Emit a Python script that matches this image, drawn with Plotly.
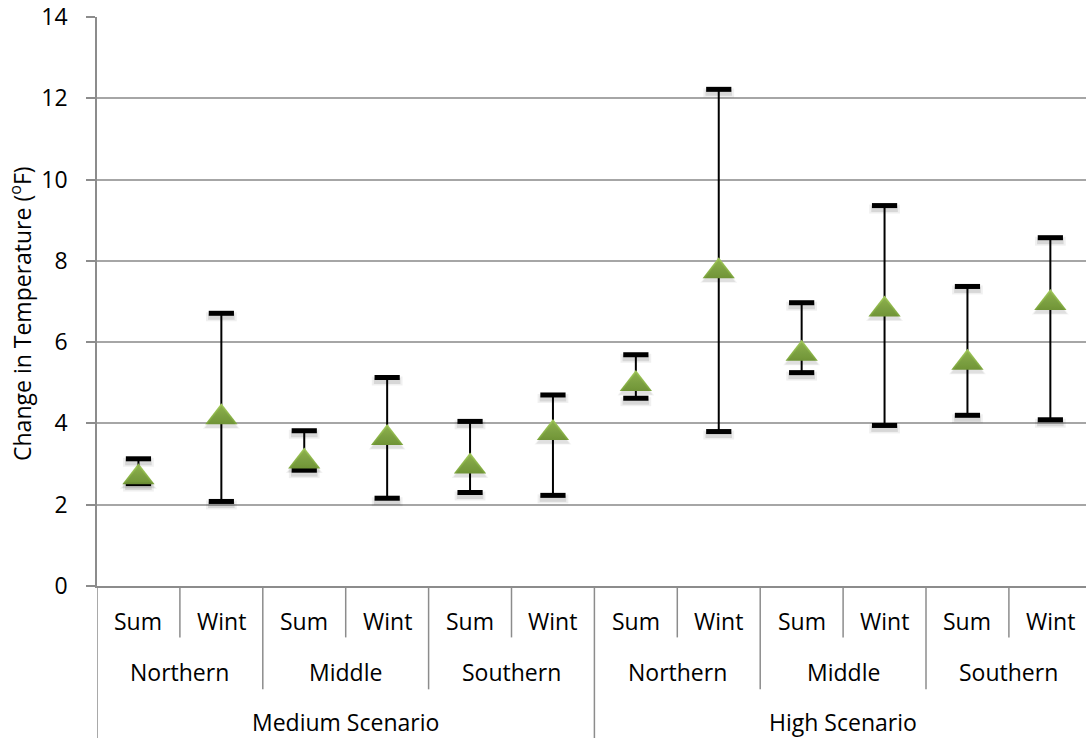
import plotly.graph_objects as go

# Projected seasonal temperature change by region and emissions scenario
seasons = ["Sum", "Wint"] * 6
regions = ["Northern", "Middle", "Southern"]
scenarios = ["Medium Scenario", "High Scenario"]

mean_change = [2.83, 4.31, 3.22, 3.80, 3.10, 3.92,
               5.13, 7.90, 5.87, 6.96, 5.65, 7.12]
upper_change = [3.13, 6.71, 3.82, 5.13, 4.05, 4.70,
                5.69, 12.22, 6.97, 9.36, 7.37, 8.57]
lower_change = [2.52, 2.08, 2.85, 2.16, 2.30, 2.23,
                4.62, 3.80, 5.25, 3.95, 4.20, 4.09]

y_ticks = [0, 2, 4, 6, 8, 10, 12, 14]
y_title = "Change in Temperature (<sup>o</sup>F)"

W, H = 1086, 738
M_L, M_R, M_T, M_B = 97, 0, 16.5, 151.5
plot_w = W - M_L - M_R
plot_h = H - M_T - M_B
y_min, y_max = 0, 14
px_per_unit = plot_h / (y_max - y_min)

# x range: the last category runs slightly past the right edge of the page
x_lo, x_hi = -0.5, 11.43

FONT = "Open Sans"
LABEL_SIZE = 23
GRID = "#A6A6A6"
AXIS = "#8C8C8C"

x_idx = list(range(len(mean_change)))

# plotly anchors triangle-up near its base; an overlay axis shifted by
# the symbol's half-height offset keeps each triangle centred on its value
tri_size = 28
tri_shift = 0.2285 * tri_size / px_per_unit
# drop shadows sit a few pixels below their mark
shadow_shift = 3.5 / px_per_unit


def shifted_axis(shift):
    return dict(range=[y_min + shift, y_max + shift], overlaying="y",
                visible=False)


fig = go.Figure()

# soft drop shadows under the caps and triangles
for width, alpha in [(9, 0.06), (6, 0.10)]:
    fig.add_trace(go.Scatter(
        x=x_idx + x_idx, y=upper_change + lower_change, mode="markers",
        yaxis="y3",
        marker=dict(symbol="line-ew", size=18 + width - 5,
                    line=dict(color=f"rgba(0,0,0,{alpha})", width=width)),
        hoverinfo="skip", showlegend=False,
    ))
for grow, alpha in [(4, 0.05), (1, 0.07)]:
    fig.add_trace(go.Scatter(
        x=x_idx, y=mean_change, mode="markers", yaxis="y4",
        marker=dict(symbol="triangle-up", size=tri_size + grow,
                    color=f"rgba(0,0,0,{alpha})", line=dict(width=0)),
        hoverinfo="skip", showlegend=False,
    ))

# error-bar stems
fig.add_trace(go.Scatter(
    x=x_idx, y=mean_change, mode="markers",
    marker=dict(size=1, color="rgba(0,0,0,0)"),
    error_y=dict(type="data", symmetric=False,
                 array=[u - m for u, m in zip(upper_change, mean_change)],
                 arrayminus=[m - l for m, l in zip(mean_change, lower_change)],
                 color="black", thickness=2, width=0),
    hoverinfo="skip", showlegend=False,
))

# thick caps at both ends of each range
fig.add_trace(go.Scatter(
    x=x_idx + x_idx, y=upper_change + lower_change, mode="markers",
    marker=dict(symbol="line-ew", size=18,
                line=dict(color="black", width=5)),
    hoverinfo="skip", showlegend=False,
))

# mean change markers
fig.add_trace(go.Scatter(
    x=x_idx, y=mean_change, mode="markers", yaxis="y2",
    marker=dict(symbol="triangle-up", size=tri_size, color="#A4CC5C",
                gradient=dict(type="vertical", color="#7FA83F"),
                line=dict(width=0)),
    showlegend=False,
))

fig.update_layout(
    width=W, height=H,
    margin=dict(l=M_L, r=M_R, t=M_T, b=M_B, pad=0),
    paper_bgcolor="white", plot_bgcolor="white",
    font=dict(family=FONT, size=LABEL_SIZE, color="black"),
    xaxis=dict(range=[x_lo, x_hi], showgrid=False, zeroline=False,
               showticklabels=False, ticks="", showline=True,
               linecolor=AXIS, linewidth=1.5),
    yaxis=dict(range=[y_min, y_max], tickvals=y_ticks,
               showgrid=True, gridcolor=GRID, gridwidth=1.5,
               zeroline=False, showline=True, linecolor=AXIS, linewidth=1.5,
               ticks="outside", ticklen=9, tickcolor=AXIS, tickwidth=1.5,
               ticklabelstandoff=14,
               tickfont=dict(family=FONT, size=LABEL_SIZE, color="black")),
    yaxis2=shifted_axis(tri_shift),
    yaxis3=shifted_axis(shadow_shift),
    yaxis4=shifted_axis(tri_shift + shadow_shift),
)


def py(px):
    """Pixel row (from page top) to paper y."""
    return (H - M_B - px) / plot_h


def px_x(px):
    """Pixel column (from page left) to paper x."""
    return (px - M_L) / plot_w


shapes = []
# Sum | Wint dividers
for b in [0.5, 2.5, 4.5, 6.5, 8.5, 10.5]:
    shapes.append(dict(type="line", xref="x", yref="paper", x0=b, x1=b,
                       y0=py(587), y1=py(638), line=dict(color=AXIS, width=1.5)))
# region dividers
for b in [1.5, 3.5, 7.5, 9.5]:
    shapes.append(dict(type="line", xref="x", yref="paper", x0=b, x1=b,
                       y0=py(587), y1=py(690), line=dict(color=AXIS, width=1.5)))
# scenario dividers
for b in [-0.5, 5.5]:
    shapes.append(dict(type="line", xref="x", yref="paper", x0=b, x1=b,
                       y0=py(587), y1=py(H + 2), line=dict(color=AXIS, width=1.5)))
fig.update_layout(shapes=shapes)

label_font = dict(family=FONT, size=LABEL_SIZE, color="black")
annotations = []
for i, s in enumerate(seasons):
    annotations.append(dict(x=i, y=py(622), xref="x", yref="paper", text=s,
                            xanchor="center", yanchor="middle",
                            showarrow=False, font=label_font))
for k in range(6):
    annotations.append(dict(x=2 * k + 0.5, y=py(673), xref="x", yref="paper",
                            text=regions[k % 3], xanchor="center",
                            yanchor="middle", showarrow=False, font=label_font))
for k, sc in enumerate(scenarios):
    annotations.append(dict(x=6 * k + 2.5, y=py(723), xref="x", yref="paper",
                            text=sc, xanchor="center", yanchor="middle",
                            showarrow=False, font=label_font))
# rotated y-axis title
annotations.append(dict(x=px_x(21), y=py(314), xref="paper", yref="paper",
                        text=y_title, textangle=-90, xanchor="center",
                        yanchor="middle", showarrow=False,
                        font=dict(family=FONT, size=23, color="black")))
fig.update_layout(annotations=annotations)

fig.write_html("out.html")
